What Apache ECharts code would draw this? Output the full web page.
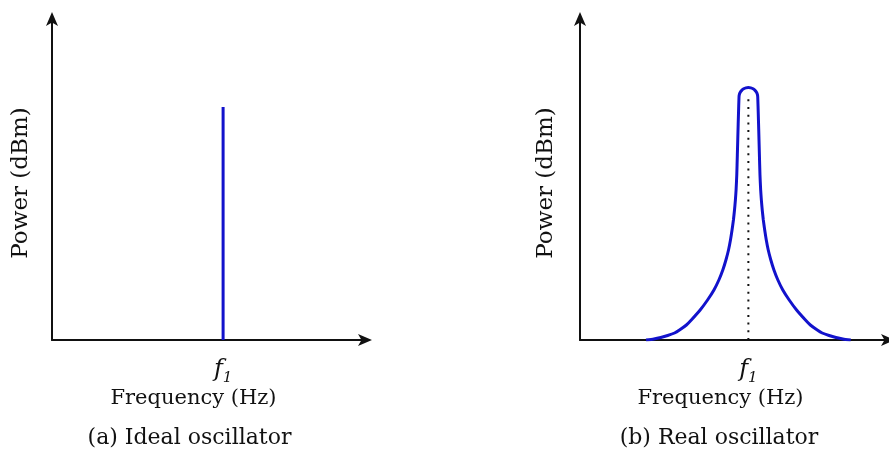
<!DOCTYPE html>
<html>
<head>
<meta charset="utf-8">
<script src="https://cdn.jsdelivr.net/npm/echarts@6/dist/echarts.min.js"></script>
<style>
  html, body { margin: 0; padding: 0; background: #ffffff; }
  #chart { width: 889px; height: 456px; }
</style>
</head>
<body>
<div id="chart"></div>
<script>
// Oscillator output spectra: ideal (single line) vs. real (broadened peak).
const F1 = 53.4;                 // carrier frequency, arbitrary units
const AXIS_MAX = 98;             // both axes run 0..98 arbitrary units
const tickLabels = ['f1'];

// (a) ideal oscillator: a single spectral line at f1
const idealFreq  = [53.4, 53.4];
const idealPower = [0, 71.1];

// (b) real oscillator: broadened peak around f1
const realFreq = [
  20.94, 23.44, 25.62, 27.81, 29.99, 31.55, 33.74, 35.30, 38.11, 40.45,
  42.48, 44.04, 45.29, 46.28, 47.10, 47.72, 48.22, 48.66, 49.00, 49.28,
  49.50, 49.72, 49.90, 50.09, 50.25, 50.43, 50.53, 50.83, 51.30, 51.92,
  52.63,
  53.40,
  54.17, 54.88, 55.50, 55.97, 56.27, 56.37, 56.55, 56.71, 56.90, 57.08,
  57.30, 57.52, 57.80, 58.14, 58.58, 59.08, 59.70, 60.52, 61.51, 62.76,
  64.32, 66.35, 68.69, 71.50, 73.06, 75.25, 76.81, 78.99, 81.18, 83.36,
  85.86
];
const realPower = [
  0, 0.31, 0.76, 1.37, 2.14, 3.05, 4.58, 6.11, 9.16, 12.21,
  15.26, 18.32, 21.37, 24.42, 27.47, 30.53, 33.58, 36.63, 39.68, 42.74,
  45.79, 50.37, 56.47, 63.19, 68.68, 74.18, 74.94, 75.63, 76.22, 76.68,
  76.98,
  77.08,
  76.98, 76.68, 76.22, 75.63, 74.94, 74.18, 68.68, 63.19, 56.47, 50.37,
  45.79, 42.74, 39.68, 36.63, 33.58, 30.53, 27.47, 24.42, 21.37, 18.32,
  15.26, 12.21, 9.16, 6.11, 4.58, 3.05, 2.14, 1.37, 0.76, 0.31,
  0
];
// dotted marker from the axis up to the peak
const markerFreq  = [53.4, 53.4];
const markerPower = [0, 74.8];

const xName = 'Frequency (Hz)';
const yName = 'Power (dBm)';
const captions = ['(a) Ideal oscillator', '(b) Real oscillator'];

const BLUE = '#1212cc';
const INK = '#111111';
const SERIF = '"DejaVu Serif", "Liberation Serif", serif';

const zip = (xs, ys) => xs.map((x, i) => [x, ys[i]]);

const gridLefts = [52, 580];

function xAxisFor(i) {
  return {
    type: 'value', gridIndex: i, min: 0, max: AXIS_MAX,
    axisLine: { onZero: false, symbol: ['none', 'arrow'], symbolSize: [9, 14], symbolOffset: [0, 6],
      lineStyle: { color: INK, width: 2 } },
    axisTick: { show: false },
    splitLine: { show: false },
    axisLabel: {
      show: true, customValues: [F1], margin: 14,
      formatter: () => '{f|' + tickLabels[0][0] + '}{s|' + tickLabels[0].slice(1) + '}',
      rich: {
        f: { fontFamily: SERIF, fontStyle: 'italic', fontSize: 24, color: INK, verticalAlign: 'bottom', lineHeight: 28 },
        s: { fontFamily: SERIF, fontStyle: 'italic', fontSize: 15, color: INK, verticalAlign: 'bottom', lineHeight: 28, padding: [0, 0, -4, 0] }
      }
    }
  };
}
function yAxisFor(i) {
  return {
    type: 'value', gridIndex: i, min: 0, max: AXIS_MAX,
    axisLine: { onZero: false, symbol: ['none', 'arrow'], symbolSize: [9, 14], symbolOffset: [0, 7],
      lineStyle: { color: INK, width: 2 } },
    axisTick: { show: false },
    axisLabel: { show: false },
    splitLine: { show: false }
  };
}

const chart = echarts.init(document.getElementById('chart'), null, { renderer: 'canvas' });

const textStyle = (size) => ({ fontFamily: SERIF, fontSize: size, fill: INK });

chart.setOption({
  backgroundColor: '#ffffff',
  animation: false,
  grid: gridLefts.map(l => ({ left: l, top: 19, width: 314, height: 321 })),
  xAxis: [xAxisFor(0), xAxisFor(1)],
  yAxis: [yAxisFor(0), yAxisFor(1)],
  series: [
    { type: 'line', xAxisIndex: 0, yAxisIndex: 0, data: zip(idealFreq, idealPower),
      showSymbol: false, lineStyle: { color: BLUE, width: 3, cap: 'butt' } },
    { type: 'line', xAxisIndex: 1, yAxisIndex: 1, data: zip(markerFreq, markerPower),
      showSymbol: false, z: 1,
      lineStyle: { color: INK, width: 2, type: [2, 5.7], cap: 'butt' } },
    { type: 'line', xAxisIndex: 1, yAxisIndex: 1, data: zip(realFreq, realPower),
      showSymbol: false, smooth: 0.2, lineStyle: { color: BLUE, width: 3, join: 'round' } }
  ],
  graphic: [
    // axis names
    { type: 'text', x: 193.5, y: 399, style: Object.assign({ text: xName, align: 'center', verticalAlign: 'middle' }, textStyle(21)) },
    { type: 'text', x: 720.5, y: 399, style: Object.assign({ text: xName, align: 'center', verticalAlign: 'middle' }, textStyle(21)) },
    { type: 'text', x: 21, y: 183, rotation: Math.PI / 2, style: Object.assign({ text: yName, align: 'center', verticalAlign: 'middle' }, textStyle(23)) },
    { type: 'text', x: 546, y: 183, rotation: Math.PI / 2, style: Object.assign({ text: yName, align: 'center', verticalAlign: 'middle' }, textStyle(23)) },
    // sub-figure captions
    { type: 'text', x: 189.5, y: 438, style: Object.assign({ text: captions[0], align: 'center', verticalAlign: 'middle' }, textStyle(22)) },
    { type: 'text', x: 719, y: 438, style: Object.assign({ text: captions[1], align: 'center', verticalAlign: 'middle' }, textStyle(22)) }
  ]
});
</script>
</body>
</html>
